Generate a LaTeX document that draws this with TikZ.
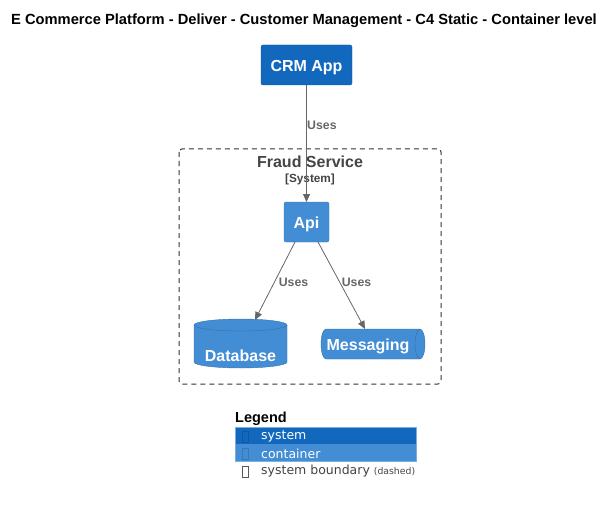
\documentclass[tikz,border=0pt]{standalone}
\usepackage{fontspec}
\setmainfont{Liberation Sans}
\newfontfamily\dvs{DejaVu Sans}
\usetikzlibrary{arrows.meta}
\definecolor{sysblue}{HTML}{1168BD}
\definecolor{contblue}{HTML}{438DD5}
\definecolor{linegray}{HTML}{666666}
\definecolor{txtgray}{HTML}{444444}
\tikzset{
  bigfont/.style={font=\fontsize{16}{19}\selectfont\bfseries},
  boxtext/.style={text=white, bigfont, inner sep=0pt},
  sysbox/.style={draw=sysblue!80!black, fill=sysblue, rounded corners=2pt, inner sep=0pt},
  contbox/.style={draw=contblue!85!black, fill=contblue, rounded corners=2pt, inner sep=0pt},
  rel/.style={draw=linegray, line width=0.8pt, -{Triangle[length=8pt,width=7pt]}, shorten >=0pt},
  rellabel/.style={text=linegray, font=\fontsize{12.3}{14}\selectfont\bfseries, inner sep=0pt},
  boundary/.style={draw=black!80, dash pattern=on 5pt off 4pt, rounded corners=3pt, line width=1pt},
  legtext/.style={font=\dvs\fontsize{12.5}{14}\selectfont, anchor=west, inner sep=0pt},
}
\begin{document}
\begin{tikzpicture}[x=1pt,y=-1pt]
\useasboundingbox (0,0) rectangle (612,505);
% title
\node[font=\fontsize{14.7}{17}\selectfont\bfseries, anchor=center, inner sep=0pt] (title) at (304,20.5) {E Commerce Platform - Deliver - Customer Management - C4 Static - Container level};
% boundary
\draw[boundary] (179,149) rectangle (441,384);
\node[text=txtgray, bigfont, inner sep=0pt] (fsname) at (310,162) {Fraud Service};
\node[text=txtgray, font=\fontsize{11.8}{14}\selectfont\bfseries, inner sep=0pt] (fstype) at (310,179) {[System]};
% CRM App
\node[sysbox, minimum width=91pt, minimum height=40pt] (crm) at (306.5,65) {};
\node[boxtext] (crmtext) at (306.5,67.5) {CRM App};
% Api
\node[contbox, minimum width=45pt, minimum height=40pt] (api) at (306.5,222) {};
\node[boxtext] (apitext) at (306.5,224.5) {Api};
% Database cylinder
\fill[contblue] (194,325) -- (194,362) arc[start angle=180,end angle=360,x radius=46.5pt,y radius=6pt] -- (287,325) arc[start angle=0,end angle=180,x radius=46.5pt,y radius=6pt] -- cycle;
\draw[contblue!80!black, line width=0.4pt] (194,325) -- (194,362) arc[start angle=180,end angle=360,x radius=46.5pt,y radius=6pt] -- (287,325);
\draw[contblue!80!black, line width=0.4pt] (194,325) arc[start angle=180,end angle=360,x radius=46.5pt,y radius=6pt];
\draw[contblue!80!black, line width=0.4pt] (287,325) arc[start angle=0,end angle=180,x radius=46.5pt,y radius=6pt];
\node[boxtext] (db) at (240.5,355.5) {Database};
\coordinate (dbtop) at (255,320);
% Messaging cylinder
\fill[contblue] (326,329) -- (420,329) arc[start angle=90,end angle=-90,x radius=5pt,y radius=15pt] -- (326,359) arc[start angle=270,end angle=90,x radius=5pt,y radius=15pt] -- cycle;
\draw[contblue!80!black, line width=0.4pt] (420,329) arc[start angle=90,end angle=270,x radius=5pt,y radius=15pt];
\draw[contblue!80!black, line width=0.4pt] (326,329) -- (420,329) arc[start angle=90,end angle=-90,x radius=5pt,y radius=15pt] -- (326,359) arc[start angle=270,end angle=90,x radius=5pt,y radius=15pt];
\node[boxtext] (msg) at (368,346) {Messaging};
\coordinate (msgtop) at (365,329);
% relations
\coordinate (apitop) at (306.5,202);
\draw[rel] (crm.south) -- (apitop);
\node[rellabel, anchor=west] (l1) at (307,125.5) {Uses};
\coordinate (apibl) at (295,242);
\coordinate (apibr) at (318,242);
\draw[rel] (apibl) -- (dbtop);
\node[rellabel] (l2) at (293.5,282.5) {Uses};
\draw[rel] (apibr) -- (msgtop);
\node[rellabel] (l3) at (356.5,282.5) {Uses};
% legend
\node[font=\fontsize{14.5}{17}\selectfont\bfseries, anchor=west, inner sep=0pt] (legend) at (235,419) {Legend};
\fill[sysblue] (235,427) rectangle (416,444);
\fill[contblue] (235,444) rectangle (416,461);
\draw[contblue!70!white, line width=0.4pt] (235,427) rectangle (416,461);
\draw[sysblue!85!black, line width=0.4pt] (242,431) rectangle (248,442);
\draw[contblue!85!black, line width=0.4pt] (242,448) rectangle (248,459);
\draw[black!65, line width=0.4pt] (242,466) rectangle (248,477);
\node[legtext, text=white] (lsys) at (261,436.5) {system};
\node[legtext, text=white] (lcont) at (261,453.5) {container};
\node[legtext, text=txtgray] (lbound) at (261,471.5) {system boundary {\fontsize{9.3}{11}\selectfont(dashed)}};
\end{tikzpicture}
\end{document}
